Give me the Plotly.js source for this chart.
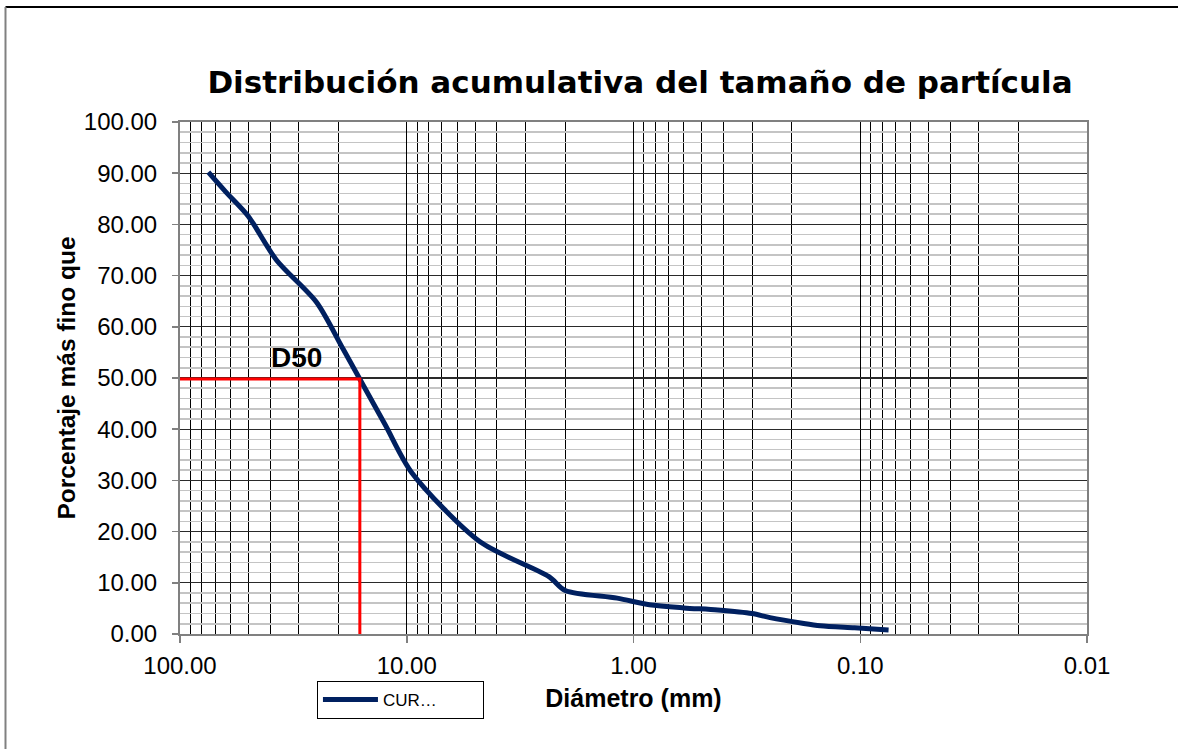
<!DOCTYPE html>
<html>
<head>
<meta charset="utf-8">
<script src="https://cdn.plot.ly/plotly-3.0.1.min.js"></script>
<style>
html,body{margin:0;padding:0;background:#fff;}
#chart{width:1178px;height:749px;}
</style>
</head>
<body>
<div id="chart"></div>
<script>
// Data
const diameters = [75, 63, 50, 37.5, 25, 19, 12.5, 9.5, 4.75, 2.36, 2.0, 1.18, 0.85, 0.6, 0.425, 0.3, 0.25, 0.18, 0.15, 0.106, 0.075];
const percentFiner = [90.2, 86.4, 81.6, 73.0, 64.8, 55.5, 41.0, 31.5, 18.0, 11.2, 8.5, 7.0, 5.7, 5.1, 4.7, 4.0, 3.2, 2.1, 1.6, 1.2, 0.8];
const seriesName = 'CUR…';

const d50Diameter = 16.1;
const d50Percent = 49.8;
const d50LineX = [100, d50Diameter, d50Diameter];
const d50LineY = [d50Percent, d50Percent, 0];
const d50Label = 'D50';
const d50LabelPos = {x: 30.5, y: 54.1};

const xTickVals = [100, 10, 1, 0.1, 0.01];
const xTickText = ['100.00', '10.00', '1.00', '0.10', '0.01'];

const chartTitle = 'Distribución acumulativa del tamaño de partícula';
const xTitle = 'Diámetro (mm)';
const yTitle = 'Porcentaje más fino que';

// minor log grid positions (2..9 within each decade)
const minorVals = [];
[10, 1, 0.1, 0.01].forEach(dec => { for (let k = 2; k <= 9; k++) minorVals.push(k * dec); });

const FONT = '"Liberation Sans", Arial, sans-serif';
const TFONT = '"DejaVu Sans", "Liberation Sans", Arial, sans-serif';

const traces = [
  {
    x: diameters, y: percentFiner, type: 'scatter', mode: 'lines',
    name: seriesName,
    line: {color: '#002060', width: 5, shape: 'spline', smoothing: 0.8},
    hoverinfo: 'x+y'
  },
  {
    x: d50LineX, y: d50LineY, type: 'scatter', mode: 'lines',
    showlegend: false,
    line: {color: '#ff0000', width: 3},
    cliponaxis: false
  }
];

const layout = {
  width: 1178, height: 749,
  paper_bgcolor: '#ffffff', plot_bgcolor: '#ffffff',
  margin: {l: 180, r: 91, t: 122, b: 115},
  font: {family: FONT, color: '#000'},
  title: {
    text: chartTitle,
    font: {family: TFONT, size: 31, weight: 'bold', color: '#000'},
    x: 0.5433, xanchor: 'center', xref: 'container',
    y: 0.8905, yanchor: 'middle', yref: 'container'
  },
  xaxis: {
    type: 'log', range: [2, -2], autorange: false,
    tickmode: 'array', tickvals: xTickVals, ticktext: xTickText,
    tickfont: {family: FONT, size: 24, color: '#000'},
    ticks: 'outside', ticklen: 7, tickcolor: '#808080', tickwidth: 1.5,
    ticklabelstandoff: 2,
    showgrid: true, gridcolor: '#000000', gridwidth: 1.3,
    minor: {tickmode: 'array', tickvals: minorVals, showgrid: true, gridcolor: '#000000', gridwidth: 1, ticks: ''},
    showline: true, linecolor: '#808080', linewidth: 2, mirror: true,
    zeroline: false,
    title: {text: xTitle, font: {family: FONT, size: 25, weight: 'bold', color: '#000'}, standoff: 12}
  },
  yaxis: {
    range: [0, 100], autorange: false,
    tickmode: 'linear', tick0: 0, dtick: 10, tickformat: '.2f',
    tickfont: {family: FONT, size: 24, color: '#000'},
    ticks: 'outside', ticklen: 6, tickcolor: '#808080', tickwidth: 1.5,
    ticklabelstandoff: 10,
    showgrid: true, gridcolor: '#2a2a2a', gridwidth: 1.3,
    minor: {tickmode: 'linear', dtick: 2, showgrid: true, gridcolor: '#c4c4c4', gridwidth: 1.6, ticks: ''},
    showline: true, linecolor: '#808080', linewidth: 2, mirror: true,
    zeroline: false,
    title: {text: yTitle, font: {family: FONT, size: 24.5, weight: 'bold', color: '#000'}, standoff: 1}
  },
  showlegend: true,
  legend: {
    orientation: 'h',
    x: 0.151, xanchor: 'left', y: -0.0918, yanchor: 'top',
    bgcolor: '#ffffff', bordercolor: '#000', borderwidth: 1,
    font: {family: FONT, size: 17, color: '#000'},
    itemwidth: 55,
    entrywidth: 95, entrywidthmode: 'pixels'
  },
  annotations: [
    {x: Math.log10(d50LabelPos.x), y: d50LabelPos.y, xref: 'x', yref: 'y', text: d50Label, showarrow: false,
     font: {family: FONT, size: 28, weight: 'bold', color: '#000'}, xanchor: 'center', yanchor: 'middle'}
  ],
  shapes: [
    {type: 'line', xref: 'paper', yref: 'paper', x0: -0.1924, x1: 1.11, y0: 1.2246, y1: 1.2246, line: {color: '#000', width: 2}},
    {type: 'line', xref: 'paper', yref: 'paper', x0: -0.1924, x1: -0.1924, y0: 1.2246, y1: -0.23, line: {color: '#808080', width: 2}}
  ]
};

Plotly.newPlot('chart', traces, layout, {displayModeBar: false, staticPlot: true});
</script>
</body>
</html>
